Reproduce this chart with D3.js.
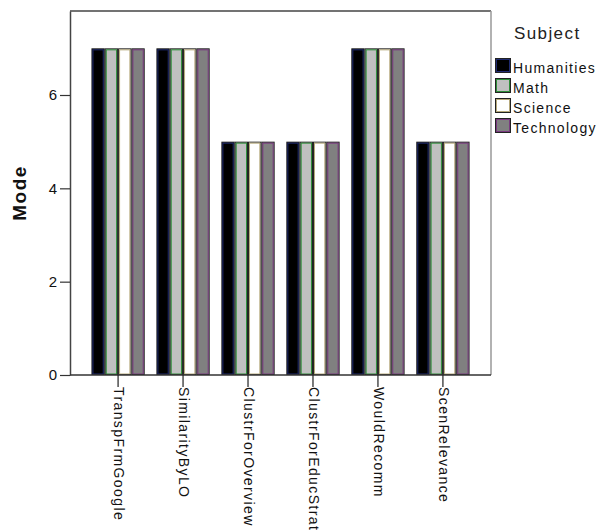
<!DOCTYPE html>
<html>
<head>
<meta charset="utf-8">
<script src="https://cdn.jsdelivr.net/npm/d3@7/dist/d3.min.js"></script>
<style>
  html, body { margin: 0; padding: 0; background: #fff; }
  svg { display: block; font-family: "Liberation Sans", Arial, sans-serif; }
</style>
</head>
<body>
<svg id="chart" width="604" height="531"></svg>
<script>
const categories = ["TranspFrmGoogle", "SimilarityByLO", "ClustrForOverview", "ClustrForEducStrat", "WouldRecomm", "ScenRelevance"];
const subjects = ["Humanities", "Math", "Science", "Technology"];
const humanities = [7, 7, 5, 5, 7, 5];
const math = [7, 7, 5, 5, 7, 5];
const science = [7, 7, 5, 5, 7, 5];
const technology = [7, 7, 5, 5, 7, 5];
const yTicks = [0, 2, 4, 6];
const fills = ["#000000", "#c0c0c0", "#ffffff", "#808080"];
const edges = ["#1f2a70", "#2f8f3a", "#b5a87a", "#7a3a80"];

const seriesValues = [humanities, math, science, technology];
const rows = categories.map((c, i) => ({ cat: c, vals: subjects.map((s, j) => ({ key: s, idx: j, v: seriesValues[j][i] })) }));

const svg = d3.select("#chart");
const L = 70, R = 491, T = 11, B = 375;

const x0 = d3.scaleBand().domain(categories).range([L, R]).paddingInner(0.18).paddingOuter(0.33);
const x1 = d3.scaleBand().domain(subjects).range([0, x0.bandwidth()]).padding(0);
const y = d3.scaleLinear().domain([0, 7.8]).range([B, T]);

// bars
const g = svg.append("g");
const grp = g.selectAll("g.grp").data(rows).join("g")
  .attr("transform", d => `translate(${x0(d.cat)},0)`);
grp.selectAll("rect.bar").data(d => d.vals).join("rect")
  .attr("class", "bar")
  .attr("x", d => x1(d.key) + 0.5)
  .attr("y", d => y(d.v) + 0.5)
  .attr("width", x1.bandwidth() - 1)
  .attr("height", d => y(0) - y(d.v) - 1)
  .attr("fill", d => fills[d.idx])
  .attr("stroke", "#222")
  .attr("stroke-width", 1);
grp.selectAll("rect.edge").data(d => d.vals).join("rect")
  .attr("class", "edge")
  .attr("x", d => x1(d.key) + 1.5)
  .attr("y", d => y(d.v) + 1.5)
  .attr("width", x1.bandwidth() - 3)
  .attr("height", d => y(0) - y(d.v) - 2.5)
  .attr("fill", "none")
  .attr("stroke", d => edges[d.idx])
  .attr("stroke-width", 1);

// frame
svg.append("line").attr("x1", L).attr("x2", R).attr("y1", T).attr("y2", T).attr("stroke", "#444").attr("stroke-width", 1.5);
svg.append("line").attr("x1", R).attr("x2", R).attr("y1", T).attr("y2", B).attr("stroke", "#999").attr("stroke-width", 1.5);

// y axis
const yAxis = svg.append("g").attr("transform", `translate(${L},0)`)
  .call(d3.axisLeft(y).tickValues(yTicks).tickFormat(d3.format("d")).tickSize(10).tickSizeOuter(0));
yAxis.select(".domain").attr("stroke", "#444").attr("stroke-width", 1.5);
yAxis.selectAll(".tick line").attr("stroke", "#333").attr("stroke-width", 1.2);
yAxis.selectAll(".tick text").attr("font-size", 15).attr("fill", "#111").attr("x", -13)
  .attr("font-family", "Liberation Sans, Arial, sans-serif");

// x axis
const xAxis = svg.append("g").attr("transform", `translate(0,${B})`)
  .call(d3.axisBottom(x0).tickSize(12).tickSizeOuter(0));
xAxis.select(".domain").attr("stroke", "#333").attr("stroke-width", 1.5).attr("d", `M${L},0H${R}`);
xAxis.selectAll(".tick line").attr("stroke", "#222").attr("stroke-width", 1.2);
xAxis.selectAll(".tick text")
  .attr("font-size", 14)
  .attr("fill", "#111")
  .attr("font-family", "Liberation Sans, Arial, sans-serif")
  .attr("letter-spacing", "1.4px")
  .attr("text-anchor", "start")
  .attr("transform", "rotate(90)")
  .attr("x", 12)
  .attr("y", 0)
  .attr("dy", "0.3em");

// y title
svg.append("text")
  .attr("transform", "translate(26,193) rotate(-90)")
  .attr("text-anchor", "middle")
  .attr("font-size", 19)
  .attr("font-weight", "bold")
  .attr("letter-spacing", "1.5px")
  .attr("fill", "#111")
  .text("Mode");

// legend
const leg = svg.append("g");
leg.append("text").attr("x", 514).attr("y", 39).attr("font-size", 17).attr("letter-spacing", "1.4px").attr("fill", "#222").text("Subject");
const items = leg.selectAll("g.item").data(subjects).join("g")
  .attr("transform", (d, i) => `translate(0,${73 + i * 20})`);
items.append("rect").attr("x", 495.5).attr("y", -14.5).attr("width", 15).attr("height", 14)
  .attr("fill", (d, i) => fills[i]).attr("stroke", "#222").attr("stroke-width", 1);
items.append("rect").attr("x", 496.5).attr("y", -13.5).attr("width", 13).attr("height", 12)
  .attr("fill", "none").attr("stroke", (d, i) => edges[i]).attr("stroke-width", 1);
items.append("text").attr("x", 513).attr("y", 0).attr("font-size", 14).attr("letter-spacing", "1.3px").attr("fill", "#111").text(d => d);
</script>
</body>
</html>
